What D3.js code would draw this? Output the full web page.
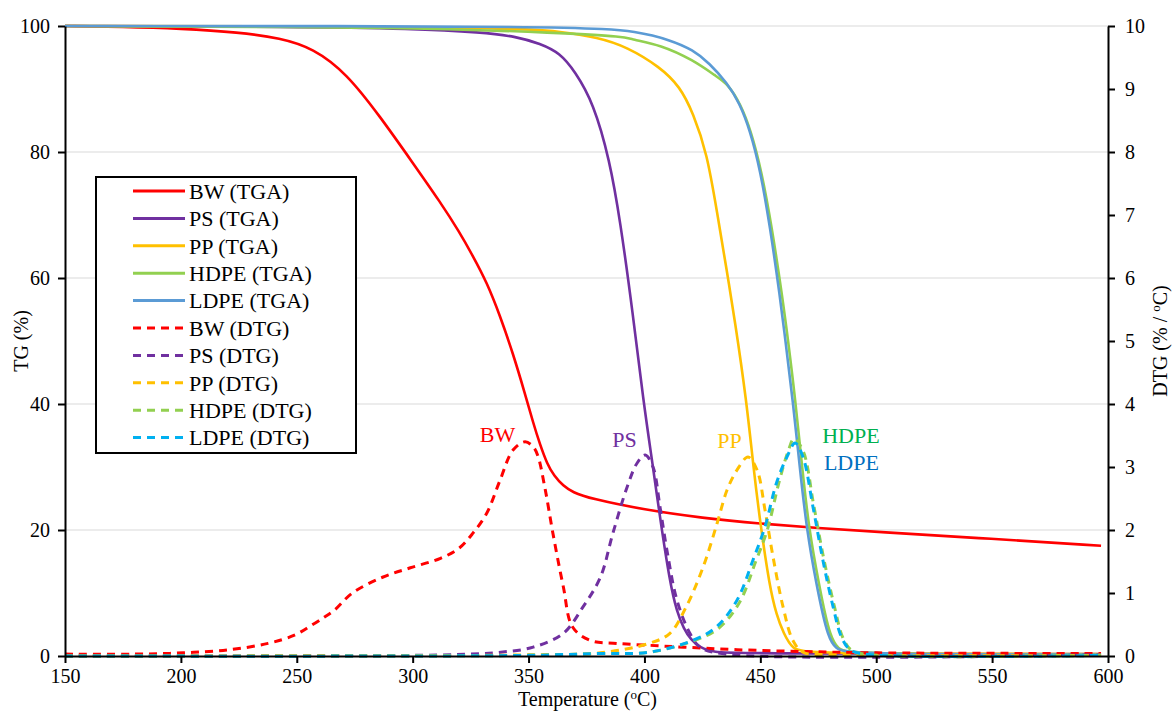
<!DOCTYPE html>
<html>
<head>
<meta charset="UTF-8">
<script src="https://d3js.org/d3.v7.min.js"></script>
<style>
  body { margin: 0; background: #fff; }
  text { font-family: "Liberation Serif", "Times New Roman", serif; fill: #000; }
</style>
</head>
<body>
<svg id="chart" width="1174" height="711"></svg>
<script>
// TGA curves: [temperature, TG %]
const bwTga = [[150,100],[175,99.9],[200,99.6],[225,99],[243,98.1],[257,96.5],[271.5,92.5],[286,85.6],[300,78.3],[312,72],[320,67.4],[326,63.5],[332,59.3],[337.7,54],[343.3,48],[348.5,41.6],[352,37],[355,33.5],[358,30.5],[361,28.6],[365,27],[369,26],[376.5,25],[400,23.2],[425,21.9],[450,21],[475,20.3],[500,19.7],[550,18.6],[597,17.5]];
const psTga = [[150,100],[250,99.9],[300,99.6],[330,99],[345,98.3],[355,97.2],[363.6,95.7],[370,92.8],[378,87.8],[385,78.7],[389.5,69.2],[395,54.4],[399.5,40.5],[403.7,30],[406.7,22],[411,11.6],[414,7],[417,4.3],[420,2.6],[424,1.3],[430,0.6],[440,0.4],[597,0.3]];
const ppTga = [[150,100],[300,99.9],[352,99.5],[363.6,99.1],[380,98.2],[392.4,96.7],[406.7,93.5],[415.3,90.4],[421,86.2],[427,79.8],[431.3,70.5],[435.6,61],[439,53.3],[444,40.6],[447,30],[450,21],[454,11],[457,6.5],[460,3.6],[464,1],[470,0.4],[597,0.3]];
const hdpeTga = [[150,100],[300,99.8],[364,98.9],[392,98.3],[394,97.9],[407,97],[421,94.6],[431,92],[436,90.8],[441.5,87.6],[446,83.3],[450.5,77],[455,68],[459.5,57],[462,50],[465,41],[468,30],[471,20],[475.5,11],[478,6.5],[480,3.6],[483,1],[490,0.3],[597,0.2]];
const ldpeTga = [[150,100],[375,100],[397,99.1],[411,97.8],[421,96.2],[428,94.1],[435.6,91],[441,87.8],[445.5,83.5],[450,77.1],[454.2,68.1],[458.5,57],[461,49.5],[464,40.6],[467,30],[470,20],[474.4,11],[477,6.5],[479,3.6],[482,1],[490,0.3],[597,0.2]];

// DTG curves: [temperature, DTG %/°C]
const bwDtg = [[150,0.03],[180,0.03],[201,0.05],[221,0.1],[237.6,0.2],[249,0.33],[256,0.48],[262,0.62],[266,0.72],[274,1.0],[287,1.25],[299,1.4],[312,1.55],[320,1.71],[326,1.95],[332,2.27],[337.7,2.79],[343.3,3.27],[348.5,3.4],[352,3.32],[354,3.18],[357,2.68],[360.5,1.95],[365,1.1],[369,0.46],[376.5,0.25],[388,0.2],[402,0.17],[417,0.14],[440,0.1],[470,0.07],[500,0.05],[597,0.04]];
const psDtg = [[150,0],[300,0.01],[325,0.03],[338,0.06],[352,0.14],[365,0.36],[373.5,0.78],[381,1.25],[386.4,1.95],[392.5,2.68],[396.8,3.06],[400.3,3.19],[403.7,3.0],[406.7,2.37],[409.7,1.68],[414,0.89],[419.6,0.36],[424,0.14],[435,0.03],[597,0.02]];
const ppDtg = [[150,0],[330,0.01],[352,0.02],[381,0.05],[402,0.2],[411,0.36],[418,0.78],[425.3,1.41],[431.3,2.1],[435.6,2.63],[439.9,2.95],[444.7,3.16],[448.6,2.95],[452,2.32],[455.5,1.57],[459.8,0.78],[464,0.25],[468.4,0.06],[480,0.02],[597,0.01]];
const hdpeDtg = [[150,0],[350,0.01],[380,0.04],[402,0.06],[421,0.24],[432,0.44],[441,0.85],[448,1.5],[453,2.0],[458,2.75],[462,3.25],[464.5,3.45],[468.5,3.25],[473,2.4],[477.5,1.52],[482,0.78],[485.5,0.3],[489,0.1],[495,0.03],[597,0.01]];
const ldpeDtg = [[150,0],[350,0.01],[380,0.04],[402,0.06],[421,0.25],[431,0.46],[440,0.89],[446.8,1.52],[452,2.05],[457,2.75],[461.5,3.16],[465,3.38],[468.4,3.16],[472.7,2.37],[477,1.52],[481.4,0.78],[485,0.3],[488.7,0.1],[495,0.03],[597,0.01]];

const xTicks = [150, 200, 250, 300, 350, 400, 450, 500, 550, 600];
const tgTicks = [0, 20, 40, 60, 80, 100];
const dtgTicks = [0, 1, 2, 3, 4, 5, 6, 7, 8, 9, 10];

const series = [
  { name: "BW (TGA)", data: bwTga, color: "#FF0000", axis: "tg" },
  { name: "PS (TGA)", data: psTga, color: "#7030A0", axis: "tg" },
  { name: "PP (TGA)", data: ppTga, color: "#FFC000", axis: "tg" },
  { name: "HDPE (TGA)", data: hdpeTga, color: "#92D050", axis: "tg" },
  { name: "LDPE (TGA)", data: ldpeTga, color: "#5B9BD5", axis: "tg" },
  { name: "BW (DTG)", data: bwDtg, color: "#FF0000", axis: "dtg" },
  { name: "PS (DTG)", data: psDtg, color: "#7030A0", axis: "dtg" },
  { name: "PP (DTG)", data: ppDtg, color: "#FFC000", axis: "dtg" },
  { name: "HDPE (DTG)", data: hdpeDtg, color: "#92D050", axis: "dtg" },
  { name: "LDPE (DTG)", data: ldpeDtg, color: "#00B0F0", axis: "dtg" }
];

// peak labels (placed in data units of the DTG axis)
const peakLabels = [
  { text: "BW", t: 336.6, v: 3.40, color: "#FF0000" },
  { text: "PS", t: 391.4, v: 3.32, color: "#7030A0" },
  { text: "PP", t: 436.7, v: 3.30, color: "#FFC000" },
  { text: "HDPE", t: 489.1, v: 3.38, color: "#00B050" },
  { text: "LDPE", t: 489.3, v: 2.95, color: "#0070C0" }
];

const svg = d3.select("#chart");
const m = { left: 65, right: 66, top: 26, bottom: 55 };
const W = 1174, H = 711;

const x = d3.scaleLinear().domain([150, 600]).range([m.left, W - m.right]);
const yTg = d3.scaleLinear().domain([0, 100]).range([H - m.bottom, m.top]);
const yDtg = d3.scaleLinear().domain([0, 10]).range([H - m.bottom, m.top]);

// gridlines
svg.append("g")
  .selectAll("line")
  .data(tgTicks.filter(d => d > 0))
  .join("line")
  .attr("x1", m.left).attr("x2", W - m.right)
  .attr("y1", d => yTg(d)).attr("y2", d => yTg(d))
  .attr("stroke", "#e6e6e6").attr("stroke-width", 1.3);

// curves: TGA smoothed, DTG passes through the peaks
const line = axis => d3.line()
  .x(d => x(d[0]))
  .y(d => axis === "tg" ? yTg(d[1]) : yDtg(d[1]))
  .curve(axis === "tg" ? d3.curveBasis : d3.curveCatmullRom.alpha(0.5));

series.forEach(s => {
  svg.append("path")
    .datum(s.data)
    .attr("d", line(s.axis))
    .attr("fill", "none")
    .attr("stroke", s.color)
    .attr("stroke-width", s.axis === "tg" ? 2.6 : 3)
    .attr("stroke-dasharray", s.axis === "tg" ? null : "8,6");
});

// axes
const tickFont = g => g.selectAll("text").style("font-size", "20px").attr("fill", "#000");
const axisStyle = g => {
  g.select(".domain").attr("stroke", "#000").attr("stroke-width", 2);
  g.selectAll(".tick line").attr("stroke", "#000").attr("stroke-width", 2);
};

svg.append("g")
  .attr("transform", `translate(0,${H - m.bottom})`)
  .call(d3.axisBottom(x).tickValues(xTicks).tickSize(7).tickSizeOuter(0).tickPadding(6))
  .call(axisStyle).call(tickFont);

svg.append("g")
  .attr("transform", `translate(${m.left},0)`)
  .call(d3.axisLeft(yTg).tickValues(tgTicks).tickSize(7).tickSizeOuter(0).tickPadding(8))
  .call(axisStyle).call(tickFont);

svg.append("g")
  .attr("transform", `translate(${W - m.right},0)`)
  .call(d3.axisRight(yDtg).tickValues(dtgTicks).tickSize(7).tickSizeOuter(0).tickPadding(10))
  .call(axisStyle).call(tickFont);

// axis titles
svg.append("text")
  .attr("transform", `translate(28,${(m.top + H - m.bottom) / 2}) rotate(-90)`)
  .attr("text-anchor", "middle")
  .style("font-size", "20px")
  .text("TG (%)");

const dtgTitle = svg.append("text")
  .attr("transform", `translate(1167,${(m.top + H - m.bottom) / 2}) rotate(-90)`)
  .attr("text-anchor", "middle")
  .style("font-size", "20px");
dtgTitle.append("tspan").text("DTG (% / ");
dtgTitle.append("tspan").text("o").style("font-size", "13px").attr("dy", -7);
dtgTitle.append("tspan").text("C)").attr("dy", 7);

const xTitle = svg.append("text")
  .attr("x", (m.left + W - m.right) / 2 + 1)
  .attr("y", 706)
  .attr("text-anchor", "middle")
  .style("font-size", "20px");
xTitle.append("tspan").text("Temperature (");
xTitle.append("tspan").text("o").style("font-size", "13px").attr("dy", -7);
xTitle.append("tspan").text("C)").attr("dy", 7);

// peak labels
svg.append("g")
  .selectAll("text")
  .data(peakLabels)
  .join("text")
  .attr("x", d => x(d.t))
  .attr("y", d => yDtg(d.v))
  .attr("text-anchor", "middle")
  .style("fill", d => d.color)
  .style("font-size", "22px")
  .text(d => d.text);

// legend
const lg = svg.append("g");
lg.append("rect")
  .attr("x", 96).attr("y", 177).attr("width", 260).attr("height", 276)
  .attr("fill", "#fff").attr("stroke", "#000").attr("stroke-width", 2);

const item = lg.selectAll("g.item")
  .data(series)
  .join("g")
  .attr("class", "item")
  .attr("transform", (d, i) => `translate(0,${191 + i * 27.4})`);

item.append("line")
  .attr("x1", 133).attr("x2", 185)
  .attr("stroke", d => d.color)
  .attr("stroke-width", 3)
  .attr("stroke-dasharray", d => d.axis === "tg" ? null : "8,6");

item.append("text")
  .attr("x", 189).attr("dy", "0.35em")
  .style("font-size", "22px")
  .text(d => d.name);
</script>
</body>
</html>
